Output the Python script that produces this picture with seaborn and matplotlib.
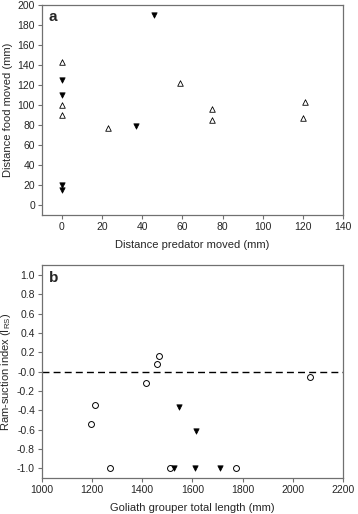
import numpy as np
import pandas as pd
import matplotlib
matplotlib.use("Agg")
import matplotlib.pyplot as plt
import seaborn as sns

# --- panel a: distance predator moved vs distance food moved ---
a_open_x = [0, 0, 0, 23, 59, 75, 75, 120, 121]
a_open_y = [143, 100, 90, 77, 122, 96, 85, 87, 103]
a_fill_x = [0, 0, 0, 0, 37, 46]
a_fill_y = [125, 110, 20, 15, 79, 190]

# --- panel b: grouper length vs ram-suction index ---
b_open_x = [1195, 1210, 1270, 1415, 1460, 1465, 1510, 1775, 2070]
b_open_y = [-0.54, -0.35, -1.0, -0.12, 0.08, 0.16, -1.0, -1.0, -0.06]
b_fill_x = [1525, 1545, 1615, 1610, 1710]
b_fill_y = [-1.0, -0.37, -0.61, -1.0, -1.0]

sns.set_style("white")
plt.rcParams['font.family'] = ['Liberation Sans', 'DejaVu Sans']

fig = plt.figure(figsize=(3.58, 5.14), dpi=100)
ax1 = fig.add_axes([0.117, 0.582, 0.841, 0.408])
ax2 = fig.add_axes([0.117, 0.070, 0.841, 0.414])

df_a_open = pd.DataFrame({"x": a_open_x, "y": a_open_y})
df_a_fill = pd.DataFrame({"x": a_fill_x, "y": a_fill_y})
df_b_open = pd.DataFrame({"x": b_open_x, "y": b_open_y})
df_b_fill = pd.DataFrame({"x": b_fill_x, "y": b_fill_y})

sns.scatterplot(data=df_a_open, x="x", y="y", ax=ax1, marker="^", s=16,
                facecolor="white", edgecolor="black", linewidth=0.6)
sns.scatterplot(data=df_a_fill, x="x", y="y", ax=ax1, marker="v", s=15,
                color="black", edgecolor="black", linewidth=0.5)

ax2.axhline(0, color="black", linestyle=(0, (5, 3)), linewidth=1.0, zorder=1)
sns.scatterplot(data=df_b_open, x="x", y="y", ax=ax2, marker="o", s=18,
                facecolor="white", edgecolor="black", linewidth=0.7, zorder=3)
sns.scatterplot(data=df_b_fill, x="x", y="y", ax=ax2, marker="v", s=15,
                color="black", edgecolor="black", linewidth=0.5, zorder=3)

ax1.set_xlim(-10, 140)
ax1.set_ylim(-10, 200)
ax1.set_xticks(np.arange(0, 141, 20))
ax1.set_yticks(np.arange(0, 201, 20))
ax1.set_xlabel("Distance predator moved (mm)", fontsize=8)
ax1.set_ylabel("Distance food moved (mm)", fontsize=8)
ax1.text(0.022, 0.975, "a", transform=ax1.transAxes, fontsize=11,
         fontweight="bold", va="top", ha="left")

ax2.set_xlim(1000, 2200)
ax2.set_ylim(-1.1, 1.1)
ax2.set_xticks(np.arange(1000, 2201, 200))
ax2.set_yticks(np.round(np.arange(-1.0, 1.01, 0.2), 1))
ax2.set_yticklabels([f"{v:.1f}" for v in np.round(np.arange(-1.0, 1.01, 0.2), 1)])
ax2.set_xlabel("Goliath grouper total length (mm)", fontsize=8)
ax2.set_ylabel("Ram-suction index (I$_{\\mathregular{RS}}$)", fontsize=8)
ax2.text(0.022, 0.975, "b", transform=ax2.transAxes, fontsize=11,
         fontweight="bold", va="top", ha="left")

for ax in (ax1, ax2):
    for sp in ax.spines.values():
        sp.set_color("#707070")
        sp.set_linewidth(0.9)
    ax.tick_params(direction="out", length=3, width=0.8, color="#707070",
                   labelsize=7.5, pad=2, bottom=True, left=True)
    ax.xaxis.labelpad = 6
    ax.yaxis.labelpad = 3

fig.savefig("out.png", dpi=100)
